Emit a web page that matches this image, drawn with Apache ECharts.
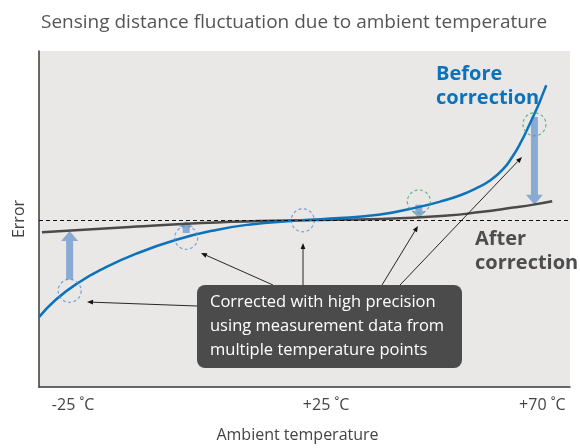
<!DOCTYPE html>
<html>
<head>
<meta charset="utf-8">
<script src="https://cdn.jsdelivr.net/npm/echarts@6/dist/echarts.min.js"></script>
<style>
    html, body { margin: 0; padding: 0; background: #fff; }
    #chart { width: 580px; height: 448px; }
</style>
</head>
<body>
<div id="chart"></div>
<script>
// tick labels on the temperature axis
const tickTemps = [-25, 25, 70];

// error before correction (arbitrary units, 0 = ideal)
const beforeTemps = [-31.9, -28.4, -24.0, -18.9, -12.2, -4.1, 4.0, 10.9, 19.0, 27.1, 37.2, 45.3, 49.3, 53.4, 56.4, 59.5, 62.1, 63.9, 65.5, 67.0, 68.2, 69.2, 70.0, 70.8];
const beforeErr   = [-9.75, -7.95, -6.3, -4.85, -3.35, -1.95, -0.95, -0.4, -0.05, 0.2, 0.6, 1.4, 1.9, 2.55, 3.2, 4.05, 5.2, 6.4, 7.75, 9.25, 10.55, 11.65, 12.65, 13.65];

// error after correction
const afterTemps = [-31.3, -13.5, 4.0, 21.4, 37.2, 50.8, 57.4, 64.1, 68.2, 72.0];
const afterErr   = [-1.18, -0.65, -0.2, 0.02, 0.15, 0.5, 0.85, 1.3, 1.6, 1.95];

// measurement (correction) points
const pointTemps = [-25.7, -2.1, 21.5, 45, 68.4];
const pointErr   = [-7.1, -1.75, 0.02, 1.92, 9.7];
const arrowFrom  = [-5.95, -1.25, null, 1.58, 10.45];
const arrowTo    = [-1.05, -0.08, null, 0.25, 1.58];

const FONT = '"Open Sans", sans-serif';

const chart = echarts.init(document.getElementById('chart'));

function thinArrow(x1, y1, x2, y2) {
    const a = Math.atan2(y2 - y1, x2 - x1);
    const L = 6, W = 2.4;
    const bx = x2 - L * Math.cos(a), by = y2 - L * Math.sin(a);
    return [
        { type: 'line', z: 90, shape: { x1: x1, y1: y1, x2: bx, y2: by }, style: { stroke: '#111', lineWidth: 0.9 } },
        {
            type: 'polygon', z: 90,
            shape: { points: [[x2, y2], [bx - W * Math.sin(a), by + W * Math.cos(a)], [bx + W * Math.sin(a), by - W * Math.cos(a)]] },
            style: { fill: '#111' }
        }
    ];
}

const option = {
    backgroundColor: '#fff',
    animation: false,
    title: {
        text: 'Sensing distance fluctuation due to ambient temperature',
        left: 36,
        top: 8,
        textStyle: { fontFamily: FONT, fontSize: 19, fontWeight: 'normal', color: '#555' }
    },
    grid: {
        left: 39, right: 10, top: 51, bottom: 57,
        show: true, backgroundColor: '#e9e8e7', borderWidth: 0
    },
    xAxis: {
        type: 'value',
        min: -31.9, max: 75.6,
        name: 'Ambient temperature',
        nameLocation: 'middle',
        nameGap: 40,
        nameTextStyle: { fontFamily: FONT, fontSize: 16, color: '#444', padding: [0, 14, 0, 0] },
        axisLine: { onZero: false, lineStyle: { color: '#3a3a3a', width: 1.5 } },
        axisTick: { show: false },
        splitLine: { show: false },
        axisLabel: {
            customValues: tickTemps,
            margin: 10,
            fontFamily: FONT, fontSize: 16, color: '#444',
            formatter: v => {
                const s = (v > 0 ? '+' : '') + v + ' ˚C';
                return v === 25 ? '{s|' + s + '}' : s;
            },
            rich: { s: { fontFamily: FONT, fontSize: 16, color: '#444', padding: [0, 0, 0, 12] } }
        }
    },
    yAxis: {
        type: 'value',
        min: -16.8, max: 17.1,
        name: 'Error',
        nameLocation: 'middle',
        nameGap: 12,
        nameTextStyle: { fontFamily: FONT, fontSize: 16, color: '#444' },
        axisLine: { show: true, onZero: false, lineStyle: { color: '#3a3a3a', width: 1.5 } },
        axisTick: { show: false },
        axisLabel: { show: false },
        splitLine: { show: false }
    },
    series: [
        {
            type: 'custom',
            z: 1,
            silent: true,
            data: pointTemps.map((t, i) => [t, arrowFrom[i], arrowTo[i]]).filter(d => d[1] != null),
            renderItem: (params, api) => {
                const p1 = api.coord([api.value(0), api.value(1)]);
                const p2 = api.coord([api.value(0), api.value(2)]);
                const dir = p2[1] < p1[1] ? -1 : 1;
                const len = Math.abs(p2[1] - p1[1]);
                const head = Math.min(10, len * 0.5);
                const hw = len < 20 ? 7 : 8.5, sw = 3.5;
                const x = p1[0];
                const baseY = p2[1] - dir * head;
                return {
                    type: 'polygon',
                    shape: {
                        points: [[x - sw, p1[1]], [x - sw, baseY], [x - hw, baseY], [x, p2[1]],
                                 [x + hw, baseY], [x + sw, baseY], [x + sw, p1[1]]]
                    },
                    style: { fill: '#88aad3' }
                };
            }
        },
        {
            name: 'After correction',
            type: 'line',
            z: 2,
            data: afterTemps.map((t, i) => [t, afterErr[i]]),
            smooth: 0.5,
            showSymbol: false,
            lineStyle: { color: '#4a4a4a', width: 2.5 },
            markLine: {
                silent: true,
                symbol: 'none',
                label: { show: false },
                lineStyle: { color: '#111', width: 1, type: [4, 3] },
                data: [{ yAxis: 0 }]
            }
        },
        {
            name: 'Before correction',
            type: 'line',
            z: 3,
            data: beforeTemps.map((t, i) => [t, beforeErr[i]]),
            smooth: 0.5,
            showSymbol: false,
            lineStyle: { color: '#0b72bb', width: 2.5 }
        },
        {
            type: 'scatter',
            z: 4,
            silent: true,
            symbol: 'circle',
            symbolSize: 23,
            data: pointTemps.map((t, i) => ({
                value: [t, pointErr[i]],
                itemStyle: { borderColor: i < 3 ? '#5b8fd0' : '#3dae6a' }
            })),
            itemStyle: { color: 'rgba(0,0,0,0)', borderWidth: 1.2, borderType: [3, 2.5] }
        }
    ],
    graphic: [
        {
            type: 'text', left: 436, top: 62, z: 95,
            style: { text: 'Before\ncorrection', fill: '#0b72bb', font: 'bold 20px ' + FONT, lineHeight: 24 }
        },
        {
            type: 'text', left: 475, top: 227, z: 95,
            style: { text: 'After\ncorrection', fill: '#4d4d4d', font: 'bold 20px ' + FONT, lineHeight: 24 }
        },
        ...thinArrow(197, 306, 87, 302),
        ...thinArrow(273, 285, 201, 253),
        ...thinArrow(303, 285, 303, 243),
        ...thinArrow(382, 285, 418, 226),
        ...thinArrow(400, 285, 522, 157),
        {
            type: 'rect', z: 100,
            shape: { x: 197, y: 285, width: 265, height: 83, r: 8 },
            style: { fill: '#4b4b4b' }
        },
        {
            type: 'text', z: 101, left: 210, top: 290,
            style: {
                text: 'Corrected with high precision\nusing measurement data from\nmultiple temperature points',
                fill: '#fff', font: '16.5px ' + FONT, lineHeight: 24
            }
        }
    ]
};

chart.setOption(option);
</script>
</body>
</html>
